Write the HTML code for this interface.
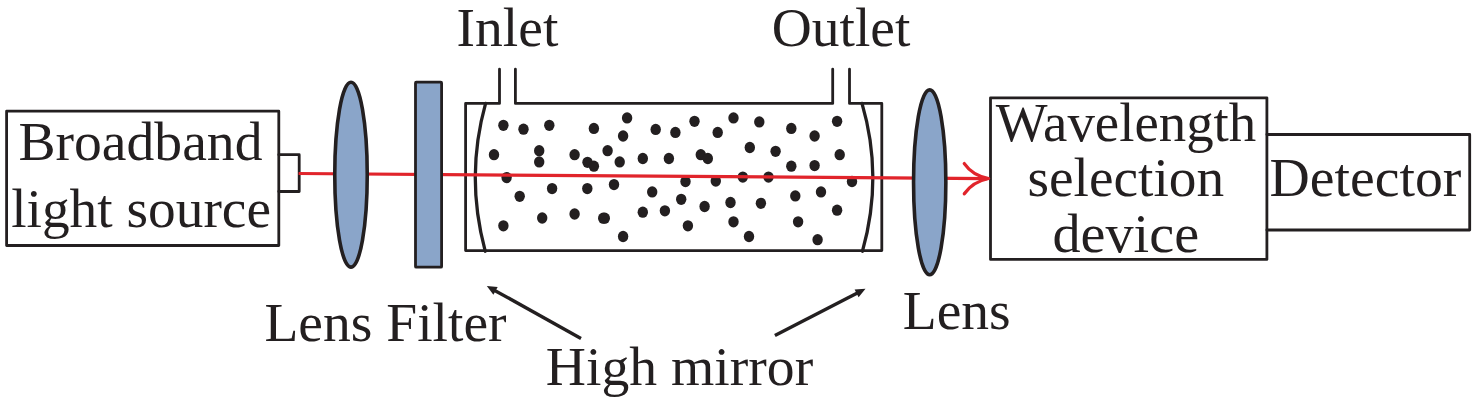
<!DOCTYPE html>
<html><head><meta charset="utf-8"><title>Cavity enhanced absorption setup</title>
<style>
html,body{margin:0;padding:0;background:#fff;}
svg{display:block;}
text{font-family:"Liberation Serif","Times New Roman",serif;font-size:55px;fill:#231f20;}
</style></head><body>
<svg width="1476" height="402" viewBox="0 0 1476 402">
<rect width="1476" height="402" fill="#fff"/>
<!-- cavity -->
<g fill="none" stroke="#231f20" stroke-width="2.8" stroke-linejoin="round" stroke-linecap="round">
<path d="M499.5 69.2 V103.4 H465.6 V250.6 H881.8 V103.4 H849.5 V69.2"/>
<path d="M515.4 69.2 V103.4 H832.7 V69.2"/>
<path d="M485.6 103.4 Q465.2 176.6 485.1 250.6 l0.2 0.6" stroke-width="3.3"/>
<path d="M862 103.4 Q883.4 176.6 862.6 250.6 l-0.2 0.6" stroke-width="3.3"/>
</g>
<!-- dots -->
<g fill="#231f20"><ellipse cx="503.4" cy="125.3" rx="5.2" ry="5.65"/><ellipse cx="523.5" cy="129.2" rx="5.2" ry="5.65"/><ellipse cx="549.3" cy="125.3" rx="5.2" ry="5.65"/><ellipse cx="593.9" cy="128.4" rx="5.2" ry="5.65"/><ellipse cx="627.1" cy="117.9" rx="5.2" ry="5.65"/><ellipse cx="623.1" cy="136.0" rx="5.2" ry="5.65"/><ellipse cx="655.7" cy="129.4" rx="5.2" ry="5.65"/><ellipse cx="675.4" cy="132.4" rx="5.2" ry="5.65"/><ellipse cx="494.0" cy="154.7" rx="5.2" ry="5.65"/><ellipse cx="539.2" cy="150.7" rx="5.2" ry="5.65"/><ellipse cx="539.2" cy="161.9" rx="5.2" ry="5.65"/><ellipse cx="574.6" cy="154.7" rx="5.2" ry="5.65"/><ellipse cx="587.5" cy="162.3" rx="5.2" ry="5.65"/><ellipse cx="593.9" cy="166.2" rx="5.2" ry="5.65"/><ellipse cx="607.6" cy="150.7" rx="5.2" ry="5.65"/><ellipse cx="619.7" cy="161.9" rx="5.2" ry="5.65"/><ellipse cx="642.8" cy="158.5" rx="5.2" ry="5.65"/><ellipse cx="668.9" cy="158.5" rx="5.2" ry="5.65"/><ellipse cx="506.6" cy="177.6" rx="5.2" ry="5.65"/><ellipse cx="519.7" cy="196.3" rx="5.2" ry="5.65"/><ellipse cx="552.1" cy="188.6" rx="5.2" ry="5.65"/><ellipse cx="587.3" cy="188.6" rx="5.2" ry="5.65"/><ellipse cx="614.0" cy="184.6" rx="5.2" ry="5.65"/><ellipse cx="652.2" cy="191.9" rx="5.2" ry="5.65"/><ellipse cx="681.2" cy="199.3" rx="5.2" ry="5.65"/><ellipse cx="503.4" cy="225.8" rx="5.2" ry="5.65"/><ellipse cx="542.2" cy="218.0" rx="5.2" ry="5.65"/><ellipse cx="574.6" cy="214.0" rx="5.2" ry="5.65"/><ellipse cx="603.2" cy="218.2" rx="5.2" ry="5.65"/><ellipse cx="604.8" cy="218.2" rx="5.2" ry="5.65"/><ellipse cx="642.8" cy="212.2" rx="5.2" ry="5.65"/><ellipse cx="664.9" cy="210.8" rx="5.2" ry="5.65"/><ellipse cx="623.1" cy="236.5" rx="5.2" ry="5.65"/><ellipse cx="694.5" cy="121.3" rx="5.2" ry="5.65"/><ellipse cx="717.7" cy="132.4" rx="5.2" ry="5.65"/><ellipse cx="733.5" cy="117.9" rx="5.2" ry="5.65"/><ellipse cx="759.3" cy="121.9" rx="5.2" ry="5.65"/><ellipse cx="791.3" cy="128.4" rx="5.2" ry="5.65"/><ellipse cx="814.6" cy="136.0" rx="5.2" ry="5.65"/><ellipse cx="837.1" cy="121.3" rx="5.2" ry="5.65"/><ellipse cx="700.8" cy="154.7" rx="5.2" ry="5.65"/><ellipse cx="707.8" cy="158.5" rx="5.2" ry="5.65"/><ellipse cx="749.8" cy="147.5" rx="5.2" ry="5.65"/><ellipse cx="775.6" cy="151.3" rx="5.2" ry="5.65"/><ellipse cx="791.3" cy="166.2" rx="5.2" ry="5.65"/><ellipse cx="814.6" cy="165.6" rx="5.2" ry="5.65"/><ellipse cx="839.7" cy="154.7" rx="5.2" ry="5.65"/><ellipse cx="685.5" cy="181.6" rx="5.2" ry="5.65"/><ellipse cx="715.8" cy="181" rx="5.2" ry="5.65"/><ellipse cx="742.8" cy="177.1" rx="5.2" ry="5.65"/><ellipse cx="768.5" cy="177.1" rx="5.2" ry="5.65"/><ellipse cx="852.0" cy="181.5" rx="5.2" ry="5.65"/><ellipse cx="704.6" cy="206.5" rx="5.2" ry="5.65"/><ellipse cx="730.5" cy="202.5" rx="5.2" ry="5.65"/><ellipse cx="760.9" cy="203.3" rx="5.2" ry="5.65"/><ellipse cx="795.3" cy="195.9" rx="5.2" ry="5.65"/><ellipse cx="821.0" cy="191.9" rx="5.2" ry="5.65"/><ellipse cx="837.1" cy="210.2" rx="5.2" ry="5.65"/><ellipse cx="687.9" cy="225.8" rx="5.2" ry="5.65"/><ellipse cx="733.5" cy="221.8" rx="5.2" ry="5.65"/><ellipse cx="798.1" cy="221.8" rx="5.2" ry="5.65"/><ellipse cx="749.0" cy="236.5" rx="5.2" ry="5.65"/><ellipse cx="817.6" cy="239.7" rx="5.2" ry="5.65"/></g>
<!-- source box -->
<g fill="none" stroke="#231f20" stroke-width="2.8" stroke-linejoin="round" stroke-linecap="round">
<rect x="6.6" y="111.2" width="272.2" height="134.3"/>
<path d="M278.8 154.7 H299.2 V191.5 H278.8"/>
</g>
<!-- boxes right -->
<g fill="none" stroke="#231f20" stroke-width="2.8" stroke-linejoin="round" stroke-linecap="round">
<rect x="990.5" y="97.8" width="276.4" height="161.6"/>
<path d="M1266.9 134.5 H1469.7 V230 H1266.9"/>
</g>
<!-- red beam -->
<line x1="298.6" y1="173.5" x2="987" y2="178.6" stroke="#e1242b" stroke-width="3.2"/>
<path d="M964.3 163.6 Q972.5 175.5 988.6 178.5 Q972.5 181.8 964.3 193.8" fill="none" stroke="#e1242b" stroke-width="3.3" stroke-linecap="round" stroke-linejoin="round"/>
<!-- lens1 & filter -->
<ellipse cx="351" cy="174.7" rx="16.25" ry="92.45" fill="#8aa5c9" stroke="#231f20" stroke-width="3.6"/>
<rect x="415.5" y="82.2" width="26.1" height="185.0" rx="0.8" stroke-linejoin="round" fill="#8aa5c9" stroke="#231f20" stroke-width="2.8"/>
<!-- lens 2 -->
<ellipse cx="929.7" cy="182.3" rx="16.15" ry="92.45" fill="#8aa5c9" stroke="#231f20" stroke-width="3.6"/>
<line x1="581.0" y1="338.4" x2="492.9" y2="289.4" stroke="#231f20" stroke-width="3.4" stroke-linecap="butt"/><polygon points="486.8,286.0 497.7,287.0 493.4,294.7" fill="#231f20"/>
<line x1="774.9" y1="335.6" x2="859.3" y2="291.9" stroke="#231f20" stroke-width="3.4" stroke-linecap="butt"/><polygon points="865.5,288.7 858.6,297.2 854.6,289.4" fill="#231f20"/>
<text transform="translate(18.39,160.20) scale(1.0117,1)">Broadband</text>
<text transform="translate(11.19,226.60) scale(1.0066,1)">light source</text>
<text transform="translate(995.70,140.70) scale(0.9973,1)">Wavelength</text>
<text transform="translate(1027.39,196.30) scale(1.0067,1)">selection</text>
<text transform="translate(1052.46,251.80) scale(1.0221,1)">device</text>
<text transform="translate(1269.49,196.10) scale(1.0133,1)">Detector</text>
<text transform="translate(456.58,45.70) scale(1.0101,1)">Inlet</text>
<text transform="translate(771.68,45.70) scale(1.0088,1)">Outlet</text>
<text transform="translate(264.39,341.30) scale(1.0105,1)">Lens Filter</text>
<text transform="translate(545.79,385.00) scale(1.0122,1)">High mirror</text>
<text transform="translate(902.69,328.80) scale(1.0106,1)">Lens</text>
</svg>
</body></html>
